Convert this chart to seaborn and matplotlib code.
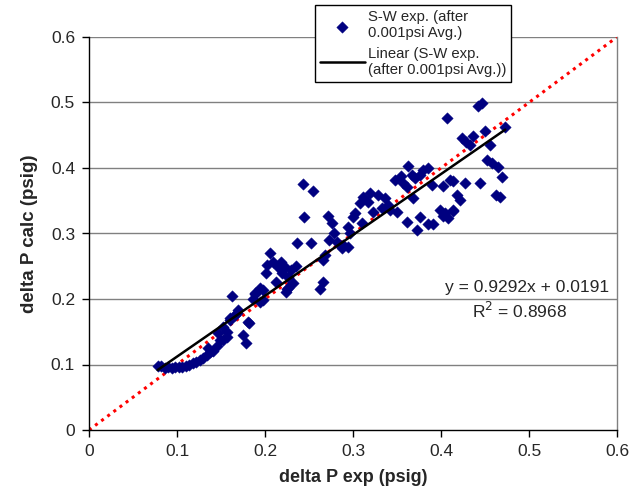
import matplotlib
matplotlib.use("Agg")
import matplotlib.pyplot as plt
import seaborn as sns
import numpy as np
import pandas as pd

# ---- data ----
dp_exp = [
    0.078, 0.082, 0.086, 0.090, 0.094, 0.098, 0.102, 0.106, 0.110, 0.114,
    0.118, 0.122, 0.126, 0.130, 0.134, 0.137, 0.141, 0.145, 0.149, 0.152,
    0.157, 0.135, 0.147, 0.157, 0.152, 0.160, 0.166, 0.169, 0.160, 0.168,
    0.175, 0.178, 0.181, 0.182, 0.163, 0.186, 0.189, 0.194, 0.198, 0.194,
    0.189, 0.198,
    0.201, 0.202, 0.206, 0.209, 0.215, 0.219, 0.223, 0.226, 0.213, 0.225,
    0.232, 0.226, 0.224, 0.235, 0.218, 0.229, 0.236, 0.252, 0.243, 0.255,
    0.244, 0.272, 0.276, 0.273, 0.278, 0.266, 0.263, 0.268, 0.266, 0.282,
    0.289, 0.288, 0.294, 0.297, 0.294, 0.300, 0.302, 0.308, 0.311, 0.319,
    0.328, 0.317, 0.336, 0.323, 0.333, 0.342, 0.350, 0.340, 0.310,
    0.348, 0.355, 0.357, 0.361, 0.363, 0.367, 0.370, 0.368, 0.361, 0.373,
    0.376, 0.385, 0.391, 0.399, 0.405, 0.408, 0.414, 0.376, 0.380, 0.385,
    0.390, 0.402, 0.410, 0.414, 0.427, 0.418, 0.422, 0.414, 0.402, 0.444,
    0.462, 0.467, 0.469, 0.465, 0.458, 0.452, 0.456, 0.433, 0.424, 0.428,
    0.436, 0.450, 0.473, 0.407, 0.442, 0.447,
]
dp_calc = [
    0.098, 0.097, 0.095, 0.096, 0.095, 0.096, 0.096, 0.096, 0.097, 0.099,
    0.102, 0.104, 0.107, 0.110, 0.114, 0.119, 0.121, 0.128, 0.137, 0.137,
    0.142, 0.125, 0.148, 0.150, 0.157, 0.168, 0.176, 0.183, 0.171, 0.178,
    0.145, 0.133, 0.165, 0.163, 0.205, 0.200, 0.208, 0.195, 0.214, 0.217,
    0.209, 0.198,
    0.240, 0.252, 0.270, 0.257, 0.249, 0.240, 0.249, 0.234, 0.226, 0.215,
    0.224, 0.217, 0.210, 0.250, 0.256, 0.244, 0.286, 0.286, 0.376, 0.365,
    0.325, 0.327, 0.316, 0.290, 0.300, 0.226, 0.215, 0.267, 0.260, 0.287,
    0.282, 0.278, 0.279, 0.300, 0.310, 0.325, 0.331, 0.347, 0.356, 0.362,
    0.359, 0.348, 0.354, 0.333, 0.339, 0.336, 0.333, 0.344, 0.316,
    0.382, 0.388, 0.377, 0.371, 0.403, 0.389, 0.385, 0.354, 0.318, 0.305,
    0.325, 0.314, 0.314, 0.336, 0.331, 0.324, 0.336, 0.389, 0.397, 0.400,
    0.374, 0.373, 0.382, 0.380, 0.377, 0.359, 0.351, 0.334, 0.327, 0.377,
    0.359, 0.356, 0.386, 0.402, 0.408, 0.412, 0.435, 0.435, 0.446, 0.440,
    0.449, 0.457, 0.463, 0.476, 0.495, 0.499,
]
slope = 0.9292
intercept = 0.0191
r2 = 0.8968
ticks = [0, 0.1, 0.2, 0.3, 0.4, 0.5, 0.6]
tick_labels = ["0", "0.1", "0.2", "0.3", "0.4", "0.5", "0.6"]

df = pd.DataFrame({"exp": dp_exp, "calc": dp_calc})

sns.set_style("white")
plt.rcParams["font.family"] = ["Liberation Sans", "DejaVu Sans"]

fig = plt.figure(figsize=(6.31, 4.94), dpi=100)
ax = fig.add_axes([89 / 631, 1 - 430 / 494, 528 / 631, 393 / 494])

for t in ticks[1:]:
    ax.axhline(t, color="#808080", lw=1.0, zorder=0)

# 45 degree reference line
ident = pd.DataFrame({"x": [0.0, 0.6], "y": [0.0, 0.6]})
sns.lineplot(data=ident, x="x", y="y", ax=ax, color="#ff0000", lw=2.2,
             linestyle=(0, (1, 1.5)), zorder=2, legend=False)

sns.scatterplot(data=df, x="exp", y="calc", ax=ax, marker="D", s=34,
                color="#000080", edgecolor="#000080", linewidth=0.3,
                zorder=3, label="S-W exp. (after\n0.001psi Avg.)")

xmin, xmax = min(dp_exp), max(dp_exp)
fit = pd.DataFrame({"x": [xmin, xmax],
                    "y": [slope * xmin + intercept, slope * xmax + intercept]})
sns.lineplot(data=fit, x="x", y="y", ax=ax, color="black", lw=1.8, zorder=4,
             label="Linear (S-W exp.\n(after 0.001psi Avg.))")

ax.set_xlim(0, 0.6)
ax.set_ylim(0, 0.6)
ax.set_xticks(ticks)
ax.set_xticklabels(tick_labels)
ax.set_yticks(ticks)
ax.set_yticklabels(tick_labels)
ax.tick_params(axis="both", direction="out", length=5, width=1, color="black",
               labelsize=12.5, pad=5, bottom=True, left=True)
for s in ["left", "bottom"]:
    ax.spines[s].set_color("black")
    ax.spines[s].set_linewidth(1.0)
ax.spines["top"].set_visible(False)
ax.spines["right"].set_color("#808080")
ax.spines["right"].set_linewidth(1.0)

ax.set_xlabel("delta P exp (psig)", fontsize=13, fontweight="bold", labelpad=7)
ax.set_ylabel("delta P calc (psig)", fontsize=13.5, fontweight="bold", labelpad=9)

ax.text(0.498, 0.217, f"y = {slope}x + {intercept}", fontsize=12.5,
        ha="center", va="center")
ax.text(0.489, 0.181, f"R$^2$ = {r2}", fontsize=12.5,
        ha="center", va="center")

handles, labels = ax.get_legend_handles_labels()
leg = fig.legend(handles, labels, loc="upper left",
                 bbox_to_anchor=(315 / 631, 1 - 5 / 494), fontsize=10.7,
                 frameon=True, fancybox=False, framealpha=1, edgecolor="black",
                 borderpad=0.35, labelspacing=0.45, handlelength=3.0,
                 handletextpad=0.2, borderaxespad=0)
leg.get_frame().set_linewidth(1.0)
if ax.get_legend():
    ax.get_legend().remove()

fig.savefig("out.png", dpi=100)
